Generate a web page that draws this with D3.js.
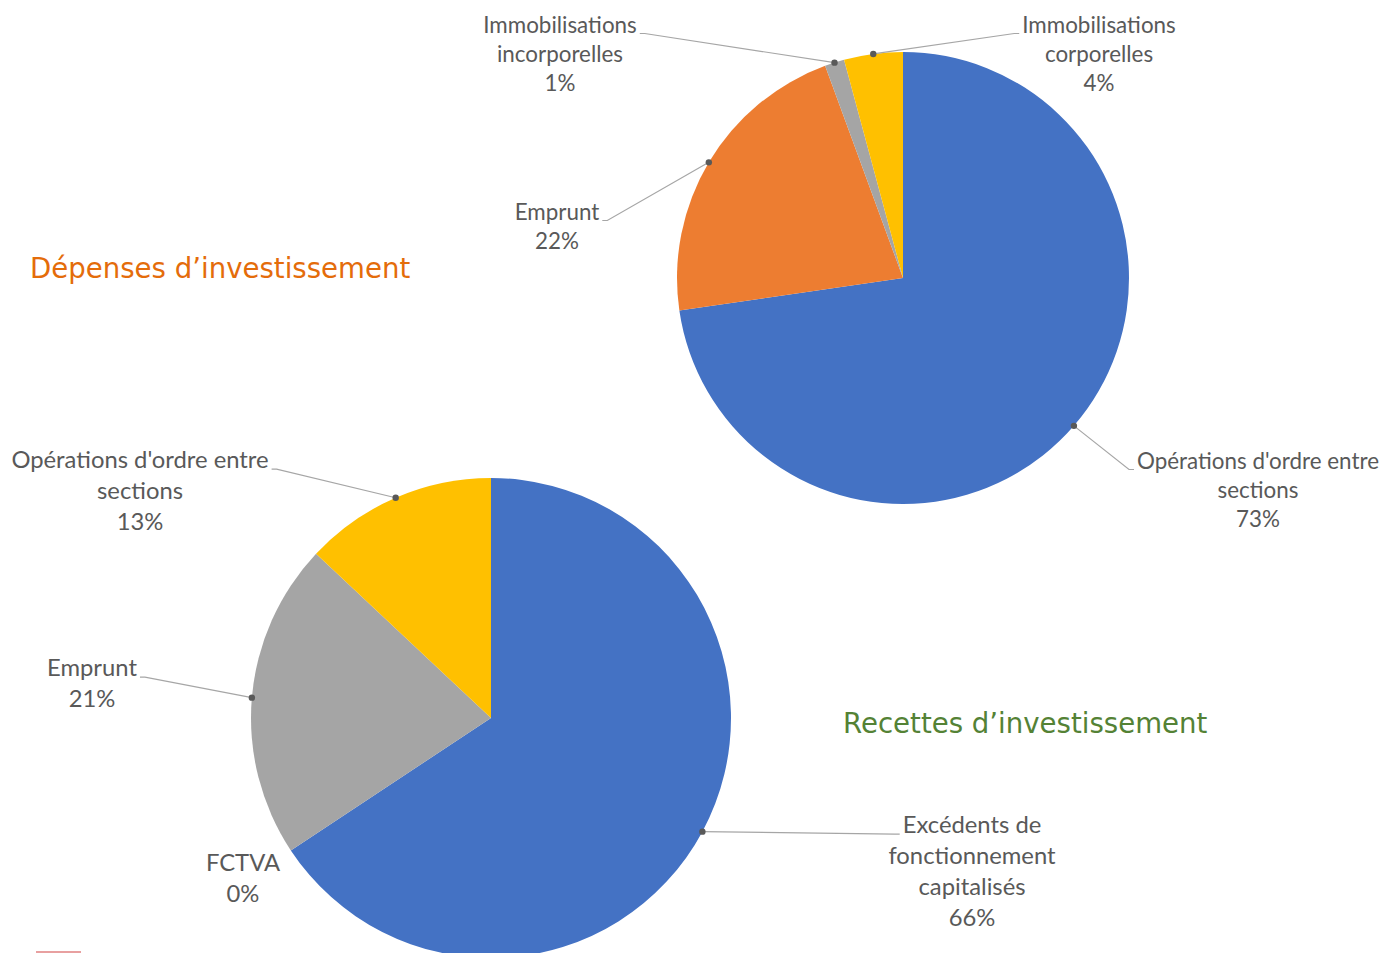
<!DOCTYPE html>
<meta charset="utf-8">
<head>
<script src="https://cdn.jsdelivr.net/npm/d3@7"></script>
<style>
body { margin: 0; background: #fff; }
</style>
</head>
<body>
<svg id="chart"></svg>
<script>
// Dépenses d'investissement (clockwise from 12 o'clock)
var depLabels = ["Opérations d'ordre entre sections", "Emprunt", "Immobilisations incorporelles", "Immobilisations corporelles"];
var depValues = [72.7, 21.7, 1.4, 4.2];
var depColors = ["#4472C4", "#ED7D31", "#A5A5A5", "#FFC000"];

// Recettes d'investissement
var recLabels = ["Excédents de fonctionnement capitalisés", "FCTVA", "Emprunt", "Opérations d'ordre entre sections"];
var recValues = [65.7, 0.0, 21.3, 13.0];
var recColors = ["#4472C4", "#ED7D31", "#A5A5A5", "#FFC000"];

var width = 1383;
var height = 953;
var svg = d3.select("#chart").attr("width", width).attr("height", height);

// label placement (hand dragged in the original): centre x / first line y, relative to pie centre
// side: which end of the first line the leader line attaches to
var charts = [
    {
        labels: depLabels, values: depValues, colors: depColors,
        cx: 903, cy: 278, r: 226, fontSize: 22.4, lineH: 29.3, wrap: 250,
        place: [
            {dx: 355, dy: 183, side: "left"},
            {dx: -346, dy: -66, side: "right"},
            {dx: -343, dy: -253, side: "right"},
            {dx: 196, dy: -253, side: "left"}
        ]
    },
    {
        labels: recLabels, values: recValues, colors: recColors,
        cx: 491, cy: 718, r: 240, fontSize: 23.8, lineH: 31, wrap: 275,
        place: [
            {dx: 481, dy: 107, side: "left"},
            {dx: -248, dy: 145, side: "none"},
            {dx: -399, dy: -50, side: "right"},
            {dx: -351, dy: -258, side: "right"}
        ]
    }
];

var pie = d3.pie().sort(null).value(function(d) { return d; });

charts.forEach(function(c) {
    var arcs = pie(c.values);
    var arc = d3.arc().innerRadius(0).outerRadius(c.r);
    var g = svg.append("g").attr("transform", "translate(" + c.cx + "," + c.cy + ")");

    g.selectAll("path.slice")
        .data(arcs)
        .enter().append("path")
        .attr("class", "slice")
        .attr("d", arc)
        .attr("fill", function(d, i) { return c.colors[i]; });

    var total = d3.sum(c.values);

    arcs.forEach(function(d, i) {
        var p = c.place[i];
        var words = c.labels[i].split(" ");
        var lab = g.append("text")
            .attr("font-family", "Lato, 'Open Sans', sans-serif")
            .attr("font-size", c.fontSize)
            .attr("fill", "#595959")
            .attr("text-anchor", "middle");

        // simple word wrap
        var lines = [];
        var cur = "";
        var probe = lab.append("tspan");
        words.forEach(function(w) {
            var test = cur ? cur + " " + w : w;
            probe.text(test);
            if (cur && probe.node().getComputedTextLength() > c.wrap) {
                lines.push(cur);
                cur = w;
            } else {
                cur = test;
            }
        });
        lines.push(cur);
        probe.remove();
        lines.push(Math.round(d.value / total * 100) + "%");

        lines.forEach(function(t, k) {
            lab.append("tspan")
                .attr("x", p.dx)
                .attr("y", p.dy + k * c.lineH)
                .attr("dy", "0.35em")
                .text(t);
        });

        if (p.side === "none") return;

        // leader line from slice mid-angle on the rim to the first label line
        var first = lab.select("tspan").node().getComputedTextLength();
        var mid = (d.startAngle + d.endAngle) / 2;
        var ax = Math.sin(mid) * c.r;
        var ay = -Math.cos(mid) * c.r;
        var ly = p.dy + c.fontSize * 0.38;
        var ex = p.side === "left" ? p.dx - first / 2 - 3 : p.dx + first / 2 + 3;
        var bx = p.side === "left" ? ex - 5 : ex + 5;

        g.insert("path", "text")
            .attr("d", d3.line()([[ax, ay], [bx, ly], [ex, ly]]))
            .attr("fill", "none")
            .attr("stroke", "#A6A6A6")
            .attr("stroke-width", 1.2);

        g.append("circle")
            .attr("cx", ax)
            .attr("cy", ay)
            .attr("r", 3.2)
            .attr("fill", "#595959");
    });
});

// titles
svg.append("text")
    .attr("x", 30)
    .attr("y", 278)
    .attr("font-family", "'DejaVu Sans', Verdana, sans-serif")
    .attr("font-size", 27.6)
    .attr("fill", "#E46C0A")
    .text("Dépenses d’investissement");

svg.append("text")
    .attr("x", 843)
    .attr("y", 733)
    .attr("font-family", "'DejaVu Sans', Verdana, sans-serif")
    .attr("font-size", 27.6)
    .attr("fill", "#548235")
    .text("Recettes d’investissement");

// small mark at the bottom edge of the original slide
svg.append("line")
    .attr("x1", 36).attr("x2", 81)
    .attr("y1", 952).attr("y2", 952)
    .attr("stroke", "#E8A0A0")
    .attr("stroke-width", 2);
</script>
</body>
